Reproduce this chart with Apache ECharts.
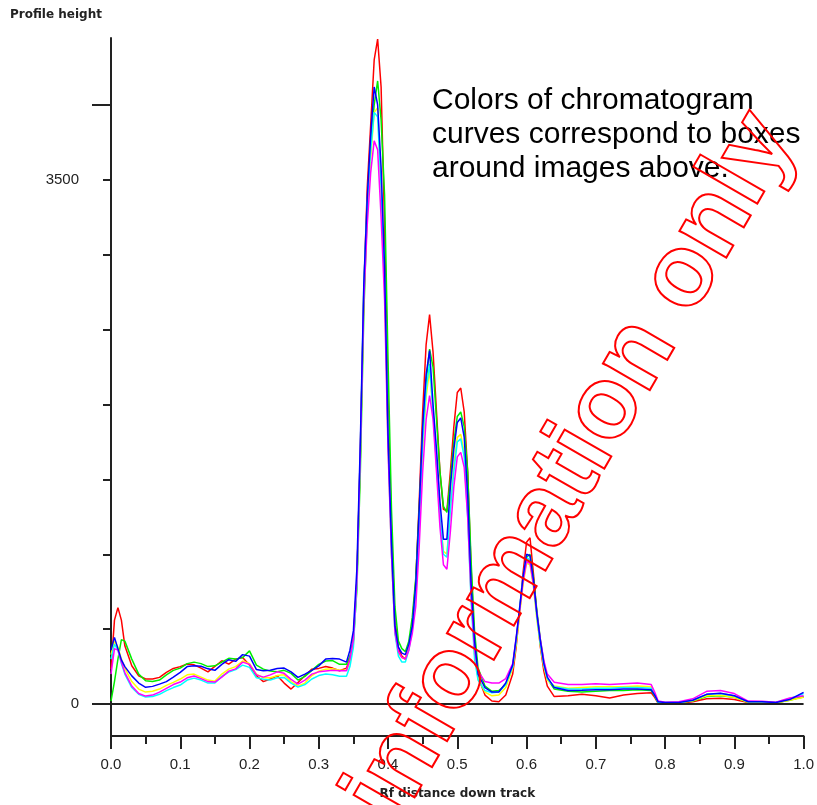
<!DOCTYPE html>
<html>
<head>
<meta charset="utf-8">
<script src="https://cdn.jsdelivr.net/npm/echarts@6/dist/echarts.min.js"></script>
<style>
html,body{margin:0;padding:0;background:#fff;}
#chart{width:817px;height:805px;}
</style>
</head>
<body>
<div id="chart"></div>
<script>
// Rf positions (shared by all curves)
var xs = [0,0.005,0.01,0.015,0.02,0.03,0.04,0.05,0.06,0.07,0.08,0.09,0.10,0.11,0.12,0.13,0.14,0.15,0.16,0.17,0.18,0.19,0.20,0.21,0.22,0.23,0.24,0.25,0.26,0.27,0.28,0.29,0.30,0.31,0.32,0.33,
  0.34,0.345,0.35,0.355,0.36,0.365,0.37,0.375,0.38,0.385,0.39,0.395,0.40,0.405,0.41,0.415,0.42,0.425,0.43,0.435,0.44,0.445,0.45,0.455,0.46,0.465,0.47,0.475,0.48,0.485,0.49,0.495,0.50,0.505,0.51,0.515,0.52,0.525,
  0.53,0.54,0.55,0.56,0.57,0.58,
  0.585,0.59,0.595,0.60,0.605,0.61,0.615,0.62,0.625,0.63,
  0.64,0.66,0.68,0.70,0.72,0.74,0.76,0.78,0.785,0.79,
  0.80,0.82,0.84,0.86,0.88,0.90,0.92,0.94,0.96,0.98,1.0];

var red = [233,560,644,560,389,256,189,167,167,178,211,238,250,267,262,240,215,251,289,267,300,311,260,189,150,167,189,140,100,144,189,233,238,251,240,222,
  240,300,430,820,1650,2750,3450,3870,4300,4440,4120,3200,2000,1150,560,370,320,300,380,540,820,1350,1950,2400,2600,2350,1950,1550,1300,1290,1550,1850,2080,2110,1950,1550,900,400,
  180,60,20,15,60,200,
  380,620,880,1080,1110,870,600,380,220,120,
  50,55,65,55,40,60,70,75,45,5,
  5,5,15,35,38,30,10,10,5,30,47];

var green = [20,150,300,430,420,300,200,155,150,160,195,225,240,270,280,270,250,255,280,305,300,310,355,260,233,220,215,225,205,160,185,225,265,287,290,265,
  265,320,420,760,1550,2600,3300,3750,4000,4160,3900,3400,2300,1300,650,420,370,350,420,580,840,1300,1800,2150,2370,2250,1900,1550,1320,1280,1500,1750,1920,1950,1850,1550,950,480,
  240,120,85,90,130,250,
  420,620,830,980,1000,840,620,430,280,170,
  100,85,80,85,90,90,95,90,55,10,
  8,10,20,50,55,45,12,12,8,25,50];

var yellow = [330,420,380,300,240,150,100,80,85,100,125,145,167,195,200,180,160,153,200,233,250,287,270,200,175,175,190,195,150,120,140,190,220,233,235,225,
  225,280,400,820,1700,2750,3300,3650,3950,3980,3450,2800,1750,1000,480,340,310,300,380,500,750,1200,1700,2050,2230,1950,1600,1250,1020,1000,1300,1600,1780,1800,1680,1300,720,330,
  170,80,55,60,110,240,
  400,600,800,940,930,780,560,390,250,160,
  120,105,110,115,115,115,120,115,70,15,
  8,10,22,55,58,45,12,12,8,25,45];

var cyan = [300,400,360,270,200,110,65,47,50,65,90,110,127,160,173,160,140,140,185,213,230,260,245,175,165,160,175,178,140,113,130,167,190,200,195,185,
  185,250,380,800,1700,2780,3350,3700,3950,3920,3450,2850,1750,1000,470,320,280,280,360,500,740,1200,1750,2100,2270,1950,1600,1250,1000,980,1300,1550,1750,1770,1650,1250,680,300,
  160,90,75,80,130,250,
  420,640,850,980,960,800,580,400,260,170,
  115,100,100,105,105,110,110,105,60,10,
  10,10,25,65,70,55,15,15,10,35,70];

var magenta = [200,370,360,280,210,120,70,53,60,80,105,130,147,175,187,170,150,147,180,220,235,280,265,195,180,195,215,205,165,133,160,200,215,220,225,222,
  222,300,430,820,1700,2700,3200,3550,3760,3700,3250,2700,1700,1000,480,350,310,300,360,470,650,1050,1550,1900,2060,1900,1550,1180,930,900,1150,1450,1650,1680,1580,1250,720,360,
  220,150,140,140,170,270,
  440,620,820,950,940,800,600,430,290,200,
  145,130,130,135,130,135,140,130,80,20,
  12,15,35,85,90,70,20,18,12,40,55];

var blue = [360,445,370,295,250,188,140,112,118,133,150,180,212,250,256,252,235,225,265,296,285,330,320,230,222,226,238,240,215,178,200,225,255,300,304,300,
  280,360,490,900,1750,2800,3380,3800,4120,4000,3580,2920,1800,1080,520,380,340,330,400,520,800,1300,1850,2200,2360,2000,1700,1350,1100,1100,1450,1700,1880,1910,1780,1400,800,420,
  200,110,80,80,140,260,
  440,640,850,1000,990,830,600,420,270,180,
  110,90,92,95,95,100,100,95,60,15,
  10,10,25,65,72,55,15,15,10,30,78];

var yShortTicks = [500,1000,1500,2000,2500,3000,3500];
var yLongTicks = [0,4000];
var yLabels = [0,3500];

var curves = [
  {name:'red', data:red, color:'#ff0000'},
  {name:'green', data:green, color:'#00ee00'},
  {name:'yellow', data:yellow, color:'#ffff00'},
  {name:'cyan', data:cyan, color:'#00ffff'},
  {name:'magenta', data:magenta, color:'#ff00ff'},
  {name:'blue', data:blue, color:'#0000ff'}
];

function pairs(arr){ return xs.map(function(x,i){ return [x, arr[i]]; }); }

var YMIN = -213.3, YMAX = 4446.7;
var series = [{
  type:'line', data:[], silent:true, z:1,
  markLine:{symbol:'none', silent:true, label:{show:false},
    lineStyle:{color:'#222', width:2, type:'solid'},
    data:[{yAxis:0}]}
}];
curves.forEach(function(c){
  series.push({type:'line', name:c.name, data:pairs(c.data), showSymbol:false, symbol:'none',
    lineStyle:{color:c.color, width:1.5}, itemStyle:{color:c.color}, z:3, animation:false});
});

var nameFont = '"DejaVu Sans", Verdana, sans-serif';
var chart = echarts.init(document.getElementById('chart'), null, {renderer:'canvas'});
chart.setOption({
  animation:false,
  backgroundColor:'#ffffff',
  title:{text:'Profile height', left:5, top:4,
    textStyle:{fontFamily:nameFont, fontSize:12, fontWeight:'bold', color:'#222'}},
  grid:{left:111, right:12, top:38, bottom:68, containLabel:false},
  xAxis:{type:'value', min:0, max:1, interval:0.1,
    name:'Rf distance down track', nameLocation:'middle', nameGap:52,
    nameTextStyle:{fontFamily:nameFont, fontSize:12, fontWeight:'bold', color:'#222'},
    axisLine:{show:true, onZero:false, lineStyle:{color:'#222', width:2}},
    axisTick:{show:true, length:13, lineStyle:{color:'#222', width:2}},
    minorTick:{show:true, splitNumber:2, length:8, lineStyle:{color:'#222', width:2}},
    axisLabel:{margin:21, fontFamily:'"Liberation Sans", Arial, sans-serif', fontSize:15, color:'#222',
      formatter:function(v){ return v.toFixed(1); }},
    splitLine:{show:false}, minorSplitLine:{show:false}},
  yAxis:[{type:'value', min:YMIN, max:YMAX, position:'left',
      axisLine:{show:true, onZero:false, lineStyle:{color:'#222', width:2}},
      axisTick:{show:true, length:8, customValues:yShortTicks, lineStyle:{color:'#222', width:2}},
      axisLabel:{show:true, customValues:yLabels, margin:32, fontFamily:'"Liberation Sans", Arial, sans-serif', fontSize:15, color:'#222',
        formatter:function(v){ return String(Math.round(v)); }},
      splitLine:{show:false}},
    {type:'value', min:YMIN, max:YMAX, position:'left',
      axisLine:{show:false},
      axisTick:{show:true, length:19, customValues:yLongTicks, lineStyle:{color:'#222', width:2}},
      axisLabel:{show:false}, splitLine:{show:false}}],
  graphic:[
    {type:'text', left:432, top:84, z:50,
      style:{text:'Colors of chromatogram\ncurves correspond to boxes\naround images above.',
        font:'30px "Liberation Sans", Arial, sans-serif', fill:'#000', lineHeight:34}},
    {type:'text', x:772, y:122, rotation:60*Math.PI/180, z:60, silent:true,
      style:{text:'For information only', font:'bold 102px "Liberation Sans", Arial, sans-serif',
        fill:'none', stroke:'#ff0000', lineWidth:2,
        textAlign:'right', textVerticalAlign:'middle', align:'right', verticalAlign:'middle'}}
  ],
  series:series
});
</script>
</body>
</html>
